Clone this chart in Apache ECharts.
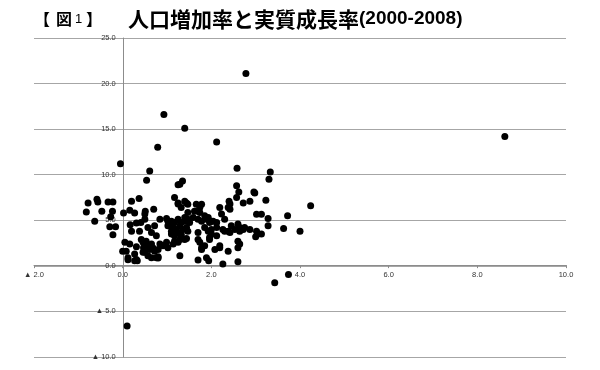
<!DOCTYPE html>
<html><head><meta charset="utf-8">
<script src="https://cdn.jsdelivr.net/npm/echarts@6/dist/echarts.min.js"></script>
<style>html,body{margin:0;padding:0;background:#fff}#c{width:600px;height:370px}</style>
</head><body><div id="c"></div>
<script>
// x: population growth rate (%), y: real growth rate (%)
const figOpen = "【";
const figLabel = "図";
const figNum = "1";
const figClose = "】";
const titleMain = "人口増加率と実質成長率";
const titlePeriod = "(2000-2008)";
const xTicks = [-2, 0, 2, 4, 6, 8, 10];
const yTicks = [-10, -5, 0, 5, 10, 15, 20, 25];
const outliers = [[2.78,21.1],[0.93,16.6],[1.40,15.1],[0.79,13.0],[2.12,13.6],[-0.05,11.2],[8.62,14.2],[4.24,6.6],[4.0,3.8],[3.72,5.5],[3.63,4.1],[3.74,-0.95],[3.43,-1.86],[0.1,-6.6]];
const nearZero = [[0.12,0.66],[0.33,0.55],[0.8,0.85],[1.7,0.65],[1.94,0.55],[1.89,0.9],[2.26,0.2],[2.6,0.45]];
const negativeGrowth = [[-0.78,6.9],[-0.58,7.3],[-0.56,7.0],[-0.33,7.0],[-0.22,7.0],[-0.82,5.9],[-0.47,6.0],[-0.23,6.0],[-0.63,4.9],[-0.27,5.4],[-0.29,4.3],[-0.16,4.3],[-0.22,3.4]];
const lowGrowth = [[0.02,5.8],[0.2,7.1],[0.37,7.4],[0.16,6.1],[0.27,5.8],[0.51,6.0],[0.7,6.2],[0.5,5.1],[0.84,5.1],[0.99,5.2],[1.17,7.5],[1.25,8.9],[0.61,10.4],[0.54,9.4],
[0.17,4.5],[0.31,4.7],[0.41,4.75],[0.2,3.8],[0.38,3.8],[0.57,4.2],[0.72,4.4],[1.02,4.4],[1.1,3.8],
[0.42,2.9],[0.53,2.7],[0.65,2.4],[0.84,2.4],[0.99,2.6],[1.17,2.7],[0.05,2.6],[0.16,2.4],[0.31,2.1],[0.47,2.0],[0.61,1.8],[0.72,1.6],[0.5,1.5],[0.08,1.6],[0.12,0.9],[0.31,0.7],[0.8,1.0],[0.57,1.1],[1.29,1.1],
[0.5,5.7],[1.25,6.8],[1.32,6.4],[1.44,6.9],[0.65,3.65],[0.76,3.3],[1.02,4.9],[1.1,4.4],[1.21,4.0],[1.32,4.75],[1.4,5.3],[1.47,5.85],[1.51,4.75],[1.47,3.8],
[0.46,2.6],[0.57,2.2],[0.68,2.0],[0.8,1.8],[0.91,2.2],[1.02,2.0],[1.14,2.4],[1.25,2.6],[1.32,3.3],[1.4,2.9],[0.0,1.6],[0.27,1.3],[0.46,1.5],[0.65,0.9],[0.76,0.9],[0.27,0.55]];
const midGrowth = [[2.57,7.5],[2.98,8.0],[2.42,6.8],[2.42,6.2],[2.19,6.4],[2.23,5.7],[2.3,5.1],[2.72,6.9],[2.87,7.1],[1.66,6.75],[1.74,6.4],[1.7,6.0],[1.59,5.3],[1.7,5.1],[1.85,5.5],[1.93,5.3],[2.0,4.9],[2.12,4.75],[1.7,3.65],[1.93,3.8],[2.0,4.0],[1.96,3.1],[2.12,3.3],[2.3,3.8],[2.42,3.65],[2.53,4.0],[2.64,3.8],[2.75,4.2],[2.87,4.0],[3.02,3.8],[3.13,3.5],[3.02,5.65],[3.13,5.65],[2.6,2.7],[2.64,2.4],[2.19,2.0],[2.08,1.8],[2.38,1.6],[1.78,1.8],[1.7,2.9],[1.74,2.6],
[2.58,10.7],[3.33,10.3],[3.3,9.5],[2.57,8.8],[2.62,8.1],[2.96,8.1],[2.4,7.1],[3.23,7.2],[3.28,5.2],[3.28,4.4],[2.6,4.6],[3.0,3.2],
[1.35,9.3],[1.29,8.95],[1.25,6.9],[1.4,7.1],[1.47,6.75],[1.78,6.75],[1.62,6.0],[1.74,5.85],[2.38,6.4],
[1.1,4.9],[1.17,4.75],[1.25,5.1],[1.4,4.9],[1.47,5.1],[1.14,4.2],[1.29,4.4],[1.36,4.0],[1.44,4.2],[1.1,3.5],[1.17,3.3],[1.25,3.65],[1.32,3.5],[1.29,2.9],[1.44,3.0],
[1.78,4.9],[1.89,5.1],[1.96,4.75],[2.04,4.9],[1.85,4.2],[2.12,4.2],[2.26,4.0],[2.38,3.8],[2.45,4.4],[2.64,4.2],[2.72,4.0],
[2.0,3.5],[1.96,2.9],[1.78,2.0],[1.85,2.2],[2.19,2.2],[2.6,2.0],[3.05,3.5]];

const allPoints = [].concat(outliers, nearZero, negativeGrowth, lowGrowth, midGrowth);
const fmt = v => v < 0 ? '▲ ' + Math.abs(v).toFixed(1) : v.toFixed(1);
const CJK = '"Noto Sans CJK JP", sans-serif';
const GRID = {left: 34, right: 34, top: 38, bottom: 13};

const chart = echarts.init(document.getElementById('c'), null, {renderer: 'canvas'});
const base = {
  animation: false,
  backgroundColor: '#fff',
  title: [
    {text: figOpen, left: 34, top: 11, padding: 0,
     textStyle: {fontFamily: CJK, fontSize: 16, fontWeight: 'bold', color: '#000', lineHeight: 16}},
    {text: '{k|' + figLabel + '}{n|' + figNum + '}', left: 56, top: 11, padding: 0,
     textStyle: {rich: {
       k: {fontFamily: CJK, fontSize: 16, fontWeight: 'bold', color: '#000', lineHeight: 16},
       n: {fontFamily: 'Liberation Sans', fontSize: 13, fontWeight: 'normal', color: '#000', lineHeight: 16, padding: [0,0,0,3]}
     }}},
    {text: figClose, left: 86, top: 11, padding: 0,
     textStyle: {fontFamily: CJK, fontSize: 16, fontWeight: 'bold', color: '#000', lineHeight: 16}},
    {text: '{m|' + titleMain + '}{p|' + titlePeriod + '}', left: 128, top: 8, padding: 0,
     textStyle: {rich: {
       m: {fontFamily: CJK, fontSize: 21, fontWeight: 'bold', color: '#000', lineHeight: 22},
       p: {fontFamily: 'Liberation Sans', fontSize: 19, fontWeight: 'bold', color: '#000', lineHeight: 22}
     }}}
  ],
  grid: Object.assign({containLabel: false}, GRID),
  xAxis: {
    type: 'value', min: xTicks[0], max: xTicks[xTicks.length-1], interval: 2,
    axisLine: {onZero: false, lineStyle: {color: '#8c8c8c', width: 1}},
    axisTick: {show: true, length: 3, lineStyle: {color: '#8c8c8c'}},
    axisLabel: {formatter: fmt, fontSize: 7.5, color: '#333', margin: 6, fontFamily: 'Liberation Sans'},
    splitLine: {show: false}
  },
  yAxis: {
    type: 'value', min: yTicks[0], max: yTicks[yTicks.length-1], interval: 5,
    axisLine: {show: true, onZero: false, lineStyle: {color: '#8c8c8c', width: 1}},
    axisTick: {show: false},
    axisLabel: {formatter: fmt, fontSize: 7.5, color: '#333', margin: 7, fontFamily: 'Liberation Sans'},
    splitLine: {show: true, lineStyle: {color: '#a6a6a6', width: 1.2}}
  },
  series: [{
    type: 'scatter', data: allPoints, symbol: 'circle', symbolSize: 7,
    itemStyle: {color: '#000', opacity: 1}
  }]
};
chart.setOption(base);
// Place each axis on the other axis' zero, using the library's own scale.
const px0 = chart.convertToPixel({xAxisIndex: 0}, 0);
const py0 = chart.convertToPixel({yAxisIndex: 0}, 0);
const gridBottomPx = 370 - GRID.bottom;
chart.setOption({
  yAxis: {offset: -(px0 - GRID.left)},
  xAxis: {offset: -(gridBottomPx - py0)}
});
</script></body></html>
